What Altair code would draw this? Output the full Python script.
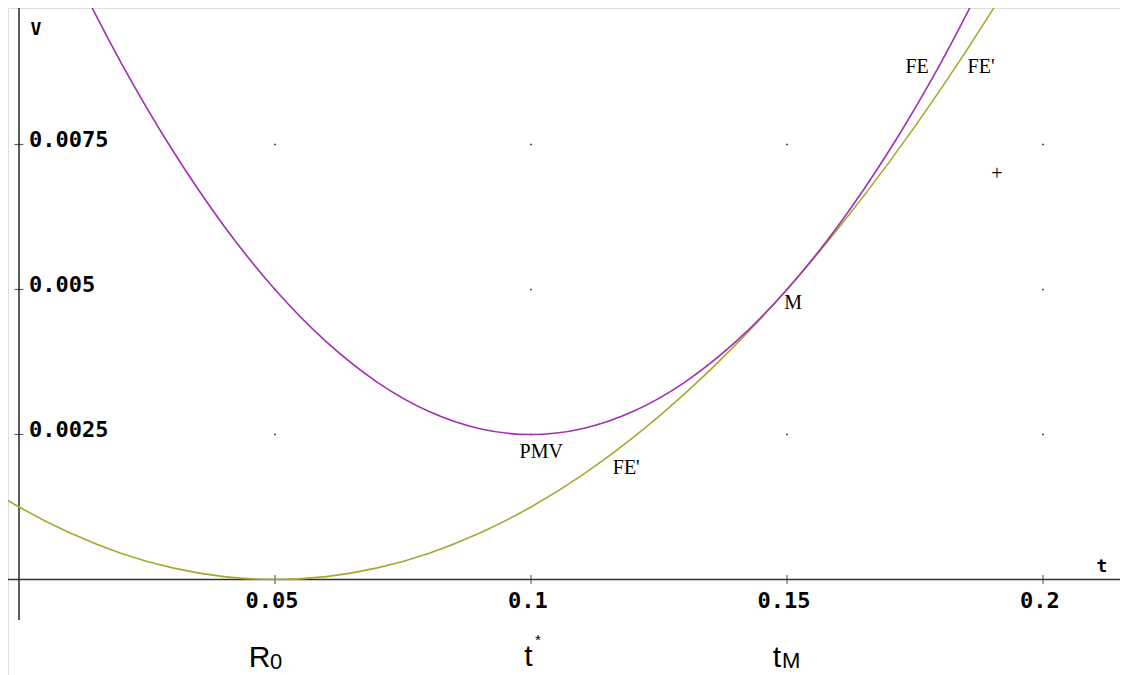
import altair as alt
import pandas as pd

# ---- data ----
pmv_t = [0.01, 0.02, 0.03, 0.04, 0.05, 0.06, 0.07, 0.08, 0.09, 0.10,
         0.11, 0.12, 0.13, 0.14, 0.15, 0.16, 0.17, 0.18, 0.19]
pmv_v = [0.0106, 0.0089, 0.0074, 0.0061, 0.0050, 0.0041, 0.0034, 0.0029, 0.0026, 0.0025,
         0.0026, 0.0029, 0.0034, 0.0041, 0.0050, 0.0061, 0.0074, 0.0089, 0.0106]

fe_t = [-0.01, 0.00, 0.01, 0.02, 0.03, 0.04, 0.05, 0.06, 0.07, 0.08, 0.09, 0.10,
        0.11, 0.12, 0.13, 0.14, 0.15, 0.16, 0.17, 0.18, 0.19, 0.20]
fe_v = [0.0018, 0.00125, 0.0008, 0.00045, 0.0002, 0.00005, 0.0, 0.00005, 0.0002, 0.00045,
        0.0008, 0.00125, 0.0018, 0.00245, 0.0032, 0.00405, 0.005, 0.00605, 0.0072,
        0.00845, 0.0098, 0.01125]

x_ticks = [0.05, 0.1, 0.15, 0.2]
x_tick_labels = ["0.05", "0.1", "0.15", "0.2"]
y_ticks = [0.0025, 0.005, 0.0075]
y_tick_labels = ["0.0025", "0.005", "0.0075"]

curve_labels = ["PMV", "FE'", "M", "FE", "FE'", "+"]
curve_label_t = [0.1020, 0.1186, 0.1512, 0.1754, 0.1879, 0.1910]
curve_label_v = [0.00220, 0.00192, 0.00477, 0.00884, 0.00884, 0.00699]

axis_names = ["V", "t"]
axis_name_t = [0.0033, 0.2115]
axis_name_v = [0.00947, 0.00022]

big_labels = ["R", "t", "t"]
big_t = [0.04700, 0.09951, 0.14805]
big_v = [-0.00135, -0.00134, -0.00135]
sub_labels = ["0", "M"]
sub_t = [0.05020, 0.15080]
sub_v = [-0.00142, -0.00141]
sup_labels = ["*"]
sup_t = [0.10137]
sup_v = [-0.00104]

XMIN, XMAX = -0.0021484, 0.2150391
PLOT_H = 667
YMAX = 0.0098534
YMIN = YMAX - PLOT_H / 58000.0

PURPLE = "#a030b0"
OLIVE = "#a8a830"

xs = alt.Scale(domain=[XMIN, XMAX], nice=False, zero=False)
ys = alt.Scale(domain=[YMIN, YMAX], nice=False, zero=False)


def X():
    return alt.X("t:Q", scale=xs, axis=None)


def Y():
    return alt.Y("V:Q", scale=ys, axis=None)


pmv_df = pd.DataFrame({"t": pmv_t, "V": pmv_v})
fe_df = pd.DataFrame({"t": fe_t, "V": fe_v})

grid_df = pd.DataFrame([{"t": a, "V": b} for a in x_ticks for b in y_ticks])
xt_df = pd.DataFrame({"t": x_ticks, "V": [0.0] * len(x_ticks), "lab": x_tick_labels})
yt_df = pd.DataFrame({"t": [0.0] * len(y_ticks), "V": y_ticks, "lab": y_tick_labels})
cl_df = pd.DataFrame({"t": curve_label_t, "V": curve_label_v, "lab": curve_labels})
an_df = pd.DataFrame({"t": axis_name_t, "V": axis_name_v, "lab": axis_names})
big_df = pd.DataFrame({"t": big_t, "V": big_v, "lab": big_labels})
sub_df = pd.DataFrame({"t": sub_t, "V": sub_v, "lab": sub_labels})
sup_df = pd.DataFrame({"t": sup_t, "V": sup_v, "lab": sup_labels})

zero_df = pd.DataFrame({"t": [0.0], "V": [0.0]})

x_axis = alt.Chart(zero_df).mark_rule(color="#333333", strokeWidth=1.6).encode(
    y=Y(), x=alt.value(0), x2=alt.value(1112))
y_axis = alt.Chart(zero_df).mark_rule(color="#333333", strokeWidth=1.6).encode(
    x=X(), y=alt.value(0), y2=alt.value(612))

x_tickmarks = alt.Chart(xt_df).mark_tick(orient="vertical", size=9, thickness=1.2,
                                         color="#222222").encode(x=X(), y=Y())
y_tickmarks = alt.Chart(yt_df).mark_tick(orient="horizontal", size=9, thickness=1.2,
                                         color="#222222").encode(x=X(), y=Y())

x_ticklabels = alt.Chart(xt_df).mark_text(
    font="DejaVu Sans Mono", fontWeight="bold", fontSize=22, align="center",
    baseline="middle", dx=-3, dy=22, color="black").encode(x=X(), y=Y(), text="lab:N")
y_ticklabels = alt.Chart(yt_df).mark_text(
    font="DejaVu Sans Mono", fontWeight="bold", fontSize=22, align="left",
    baseline="middle", dx=10, dy=-4, color="black").encode(x=X(), y=Y(), text="lab:N")

grid = alt.Chart(grid_df).mark_square(size=2, color="black", opacity=1).encode(x=X(), y=Y())

fe_line = alt.Chart(fe_df).mark_line(color=OLIVE, strokeWidth=1.6, clip=True,
                                     interpolate="monotone").encode(x=X(), y=Y(), order="t:Q")
pmv_line = alt.Chart(pmv_df).mark_line(color=PURPLE, strokeWidth=1.6, clip=True,
                                       interpolate="monotone").encode(x=X(), y=Y(), order="t:Q")

curve_text = alt.Chart(cl_df).mark_text(
    font="Liberation Serif", fontSize=20, align="center", baseline="middle",
    color="black").encode(x=X(), y=Y(), text="lab:N")
axis_text = alt.Chart(an_df).mark_text(
    font="DejaVu Sans Mono", fontWeight="bold", fontSize=18, align="center",
    baseline="middle", color="black").encode(x=X(), y=Y(), text="lab:N")

big_text = alt.Chart(big_df).mark_text(
    font="Liberation Sans", fontSize=30, align="center", baseline="middle",
    color="black").encode(x=X(), y=Y(), text="lab:N")
sub_text = alt.Chart(sub_df).mark_text(
    font="Liberation Sans", fontSize=22, align="center", baseline="middle",
    color="black").encode(x=X(), y=Y(), text="lab:N")
sup_text = alt.Chart(sup_df).mark_text(
    font="Liberation Sans", fontSize=15, align="center", baseline="middle",
    color="black").encode(x=X(), y=Y(), text="lab:N")

chart = alt.layer(
    grid, x_axis, y_axis, x_tickmarks, y_tickmarks, fe_line, pmv_line,
    x_ticklabels, y_ticklabels, curve_text, axis_text, big_text, sub_text, sup_text
).properties(
    width=1112, height=PLOT_H, padding=0,
    autosize=alt.AutoSizeParams(type="none")
).configure_view(stroke="transparent", strokeWidth=0).configure(background="white")

chart.save("out.html", embed_options={"renderer": "svg", "actions": False})
